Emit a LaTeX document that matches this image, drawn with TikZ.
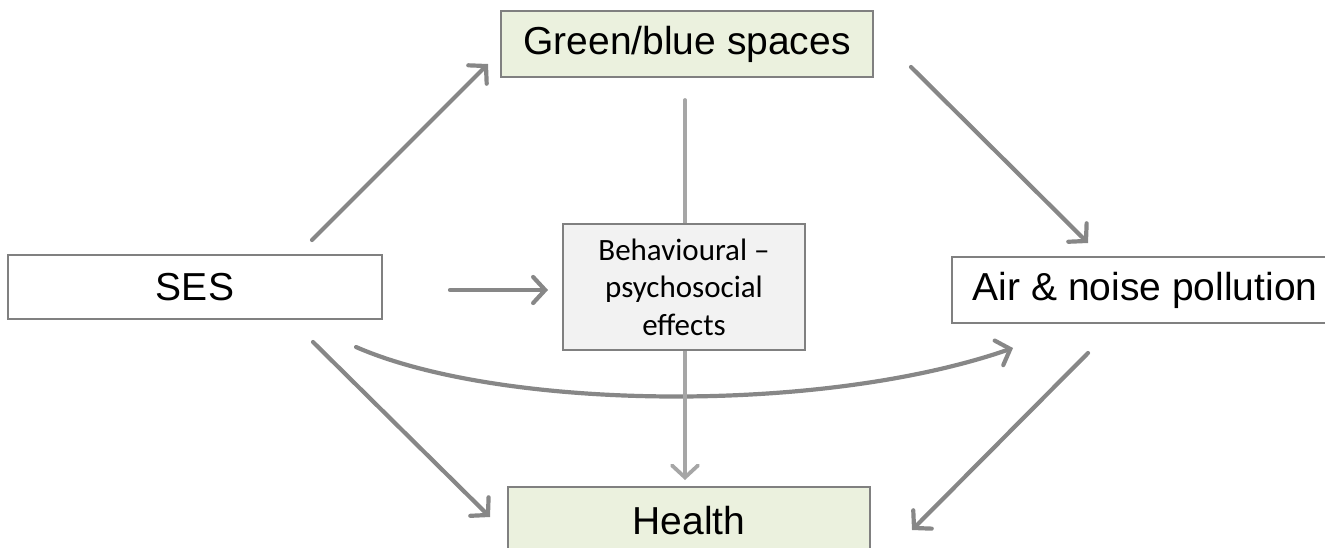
\documentclass[tikz,border=0pt]{standalone}
\usepackage{fontspec}
\setmainfont{Liberation Sans}
\newfontfamily\calibri{Carlito}
\usetikzlibrary{arrows.meta}
\definecolor{boxline}{HTML}{808080}
\definecolor{arrowgray}{HTML}{878787}
\definecolor{lightarrow}{HTML}{A6A6A6}
\definecolor{greenfill}{HTML}{EBF1DE}
\definecolor{greyfill}{HTML}{F2F2F2}
\begin{document}
\begin{tikzpicture}[x=1pt,y=-1pt,
  box/.style={draw=boxline, line width=2.2pt, inner sep=0pt, font=\fontsize{39}{47}\selectfont},
  tipb/.tip={Straight Barb[length=12pt,width=26pt,line cap=round]},
  conn/.style={draw=arrowgray, line width=4.2pt, line cap=round, -tipb},
  vconn/.style={draw=lightarrow, line width=3.8pt, line cap=round},
]
\clip (0,0) rectangle (1325,547);
\useasboundingbox (0,0) rectangle (1325,547);

\node[box, fill=greenfill, minimum width=372pt, minimum height=66pt] (green) at (687,44) {Green/blue spaces};
\node[box, fill=white, minimum width=374pt, minimum height=64pt] (ses) at (195,287) {SES};
\node[box, fill=white, minimum width=386pt, minimum height=66pt, anchor=west] (air) at (951,290) {Air \& noise pollution};
\node[box, fill=greenfill, minimum width=362pt, minimum height=66pt, anchor=north] (health) at (689,486) {Health};

% free ends
\coordinate (sg1) at (312,240);
\coordinate (sg2) at (488,64);
\coordinate (sb1) at (450,290);
\coordinate (sb2) at (548,290);
\coordinate (ga1) at (911,67);
\coordinate (ga2) at (1088,243);
\coordinate (sh1) at (313,342);
\coordinate (sh2) at (490,517);
\coordinate (sa1) at (356,347);
\coordinate (sa2) at (1013,348);
\coordinate (ah1) at (1088,353);
\coordinate (ah2) at (912,530);
\coordinate (gv) at (685,100);
\coordinate (hv) at (685,480);

\draw[conn] (sa1) .. controls (500,410) and (820,415) .. (sa2);

\draw[vconn] (gv) -- (685,226);
\draw[vconn, -tipb] (685,348) -- (hv);

\node[box, fill=greyfill, minimum width=242pt, minimum height=126pt, align=center,
  font=\calibri\fontsize{31}{37.5}\selectfont] (beh) at (684,287) {Behavioural –\\psychosocial\\effects};

\draw[conn] (sg1) -- (sg2);
\draw[conn] (sb1) -- (sb2);
\draw[conn] (ga1) -- (ga2);
\draw[conn] (sh1) -- (sh2);
\draw[conn] (ah1) -- (ah2);
\end{tikzpicture}
\end{document}
